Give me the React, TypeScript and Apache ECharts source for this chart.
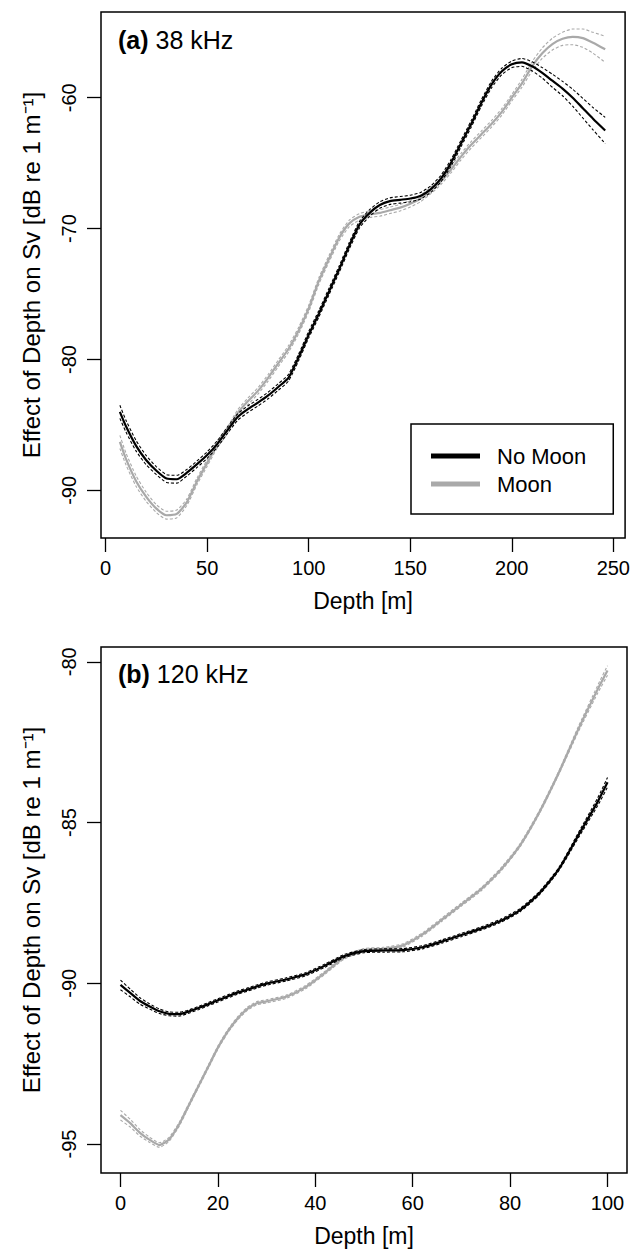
import React, { useEffect, useRef } from "react";
import * as echarts from "echarts";

const FONT = '"Liberation Sans", Arial, Helvetica, sans-serif';

// ---------- Panel (a) 38 kHz ----------
const depth38 = [7, 10, 15, 20, 25, 30, 35, 40, 45, 50, 55, 60, 65, 70, 75, 80, 85, 90, 95, 100, 105, 110, 115, 120, 125, 130, 135, 140, 145, 150, 155, 160, 165, 170, 175, 180, 185, 190, 195, 200, 205, 210, 215, 220, 225, 230, 235, 240, 246];
const noMoon38 = [-84.0, -85.1, -86.6, -87.7, -88.5, -89.1, -89.15, -88.65, -88.0, -87.3, -86.45, -85.4, -84.4, -83.8, -83.3, -82.75, -82.1, -81.4, -79.85, -78.1, -76.5, -74.8, -73.1, -71.3, -69.7, -68.8, -68.2, -67.9, -67.8, -67.7, -67.5, -67.0, -66.2, -65.0, -63.5, -62.0, -60.4, -59.0, -58.0, -57.45, -57.3, -57.6, -58.1, -58.7, -59.3, -60.0, -60.8, -61.6, -62.5];
const moon38 = [-86.3, -87.6, -89.3, -90.5, -91.4, -91.9, -91.8, -90.9, -89.3, -87.9, -86.5, -85.4, -84.1, -83.2, -82.4, -81.4, -80.3, -79.2, -77.8, -76.1, -74.0, -72.3, -70.7, -69.6, -69.1, -68.9, -68.8, -68.6, -68.4, -68.1, -67.7, -67.1, -66.4, -65.5, -64.5, -63.6, -62.8, -62.0, -61.1, -60.0, -58.9, -57.6, -56.6, -55.9, -55.5, -55.35, -55.45, -55.8, -56.3];
const seNoMoon38 = [0.5, 0.45, 0.4, 0.35, 0.3, 0.3, 0.3, 0.25, 0.25, 0.25, 0.25, 0.25, 0.25, 0.25, 0.25, 0.25, 0.25, 0.25, 0.25, 0.25, 0.25, 0.25, 0.25, 0.25, 0.25, 0.25, 0.25, 0.25, 0.25, 0.25, 0.25, 0.25, 0.25, 0.25, 0.25, 0.25, 0.25, 0.25, 0.25, 0.25, 0.3, 0.35, 0.4, 0.5, 0.55, 0.65, 0.75, 0.85, 1.0];
const seMoon38 = [0.5, 0.45, 0.4, 0.35, 0.3, 0.3, 0.3, 0.25, 0.25, 0.25, 0.25, 0.25, 0.25, 0.25, 0.25, 0.25, 0.25, 0.25, 0.25, 0.25, 0.25, 0.25, 0.25, 0.25, 0.25, 0.25, 0.25, 0.25, 0.25, 0.25, 0.25, 0.25, 0.25, 0.25, 0.25, 0.25, 0.25, 0.25, 0.25, 0.25, 0.3, 0.35, 0.4, 0.45, 0.5, 0.6, 0.7, 0.8, 1.0];
const xTicks38 = [0, 50, 100, 150, 200, 250];
const yTicks38 = [-90, -80, -70, -60];

// ---------- Panel (b) 120 kHz ----------
const depth120 = [0, 2, 4, 6, 8, 10, 12, 14, 16, 18, 20, 22, 24, 26, 28, 30, 34, 38, 42, 46, 50, 54, 58, 62, 66, 70, 74, 78, 82, 86, 90, 94, 98, 100];
const noMoon120 = [-90.05, -90.3, -90.55, -90.72, -90.87, -90.95, -90.96, -90.88, -90.77, -90.65, -90.53, -90.41, -90.29, -90.2, -90.1, -90.01, -89.88, -89.72, -89.45, -89.15, -89.0, -88.98, -88.97, -88.88, -88.7, -88.5, -88.3, -88.06, -87.73, -87.2, -86.45, -85.4, -84.35, -83.75];
const moon120 = [-94.1, -94.35, -94.65, -94.87, -95.03, -94.85, -94.4, -93.8, -93.2, -92.6, -92.0, -91.5, -91.1, -90.8, -90.62, -90.56, -90.42, -90.12, -89.67, -89.19, -88.97, -88.93, -88.82, -88.48, -88.02, -87.55, -87.08, -86.48, -85.72, -84.68, -83.45, -82.1, -80.85, -80.27];
const seNoMoon120 = [0.15, 0.12, 0.1, 0.08, 0.07, 0.06, 0.06, 0.05, 0.05, 0.05, 0.05, 0.05, 0.05, 0.05, 0.05, 0.05, 0.05, 0.05, 0.05, 0.05, 0.05, 0.05, 0.05, 0.05, 0.05, 0.05, 0.05, 0.05, 0.05, 0.05, 0.05, 0.08, 0.12, 0.15];
const seMoon120 = [0.15, 0.12, 0.1, 0.08, 0.07, 0.06, 0.06, 0.05, 0.05, 0.05, 0.05, 0.05, 0.05, 0.05, 0.05, 0.05, 0.05, 0.05, 0.05, 0.05, 0.05, 0.05, 0.05, 0.05, 0.05, 0.05, 0.05, 0.05, 0.05, 0.05, 0.05, 0.08, 0.12, 0.15];
const xTicks120 = [0, 20, 40, 60, 80, 100];
const yTicks120 = [-95, -90, -85, -80];

const seriesNames = ["No Moon", "Moon"];
const BLACK = "#000000";
const GRAY = "#a9a9a9";

const Y_TITLE = "Effect of Depth on Sv [dB re 1 m\u207B\u00B9]";
const X_TITLE = "Depth [m]";

export default function App() {
  const ref = useRef<HTMLDivElement>(null);

  useEffect(() => {
    if (!ref.current) return;
    const chart = echarts.init(ref.current, null, { renderer: "svg" });

    const pair = (xs: number[], ys: number[]) => xs.map((x, i) => [x, ys[i]]);
    const band = (xs: number[], ys: number[], se: number[], s: number) =>
      xs.map((x, i) => [x, +(ys[i] + s * se[i]).toFixed(3)]);

    const mainLine = (name: string, idx: number, data: number[][], color: string, z: number) => ({
      type: "line",
      name,
      xAxisIndex: idx,
      yAxisIndex: idx,
      data,
      showSymbol: false,
      symbol: "none",
      smooth: 0.2,
      silent: true,
      z,
      itemStyle: { color },
      lineStyle: { color, width: 2.2 },
    });
    const seLine = (name: string, idx: number, data: number[][], color: string, z: number) => ({
      type: "line",
      name,
      xAxisIndex: idx,
      yAxisIndex: idx,
      data,
      showSymbol: false,
      symbol: "none",
      smooth: 0.2,
      silent: true,
      z,
      itemStyle: { color },
      lineStyle: { color, width: 1.1, type: [3, 2] },
    });

    const xAxis = (gridIndex: number, min: number, max: number, ticks: number[]) => ({
      type: "value",
      gridIndex,
      min,
      max,
      axisLine: { show: false, onZero: false },
      axisTick: { show: true, length: 14, lineStyle: { color: "#000", width: 1.3 }, customValues: ticks },
      axisLabel: { customValues: ticks, margin: 20, fontSize: 20, color: "#000", fontFamily: FONT },
      splitLine: { show: false },
      name: X_TITLE,
      nameLocation: "middle",
      nameGap: 51,
      nameTextStyle: { fontSize: 23, color: "#000", fontFamily: FONT },
    });
    const yAxis = (gridIndex: number, min: number, max: number, ticks: number[]) => ({
      type: "value",
      gridIndex,
      min,
      max,
      axisLine: { show: false, onZero: false },
      axisTick: { show: true, length: 14, lineStyle: { color: "#000", width: 1.3 }, customValues: ticks },
      axisLabel: { customValues: ticks, rotate: 90, margin: 22, fontSize: 20, color: "#000", fontFamily: FONT },
      splitLine: { show: false },
      name: Y_TITLE,
      nameLocation: "middle",
      nameRotate: 90,
      nameGap: 58,
      nameTextStyle: { fontSize: 24, color: "#000", fontFamily: FONT },
    });

    const panelLabel = (tag: string, rest: string, y: number) => ({
      type: "text",
      x: 118,
      y,
      style: {
        text: "{b|" + tag + "} " + rest,
        fontSize: 25,
        fontFamily: FONT,
        fill: "#000",
        verticalAlign: "middle",
        rich: { b: { fontSize: 25, fontWeight: "bold", fontFamily: FONT, fill: "#000" } },
      },
    });

    const option = {
      animation: false,
      backgroundColor: "#ffffff",
      grid: [
        { left: 101, top: 12, width: 526, height: 526, show: true, borderColor: "#000", borderWidth: 1.5, backgroundColor: "transparent" },
        { left: 101, top: 647, width: 526, height: 526, show: true, borderColor: "#000", borderWidth: 1.5, backgroundColor: "transparent" },
      ],
      xAxis: [xAxis(0, -2.3, 255.8, xTicks38), xAxis(1, -4, 104, xTicks120)],
      yAxis: [yAxis(0, -93.64, -53.45, yTicks38), yAxis(1, -95.9, -79.54, yTicks120)],
      legend: {
        data: seriesNames,
        orient: "vertical",
        left: 411,
        top: 424,
        selectedMode: false,
        icon: "rect",
        itemWidth: 49,
        itemHeight: 5,
        itemGap: 0,
        padding: [18, 27, 16, 20],
        borderColor: "#000",
        borderWidth: 1.5,
        backgroundColor: "#fff",
        textStyle: { fontSize: 22, color: "#000", fontFamily: FONT, lineHeight: 28, padding: [0, 0, 0, 12] },
      },
      graphic: [panelLabel("(a)", "38 kHz", 40), panelLabel("(b)", "120 kHz", 674)],
      series: [
        // panel (a)
        seLine("Moon upper 38", 0, band(depth38, moon38, seMoon38, 1), GRAY, 2),
        seLine("Moon lower 38", 0, band(depth38, moon38, seMoon38, -1), GRAY, 2),
        mainLine("Moon", 0, pair(depth38, moon38), GRAY, 3),
        seLine("No Moon upper 38", 0, band(depth38, noMoon38, seNoMoon38, 1), BLACK, 4),
        seLine("No Moon lower 38", 0, band(depth38, noMoon38, seNoMoon38, -1), BLACK, 4),
        mainLine("No Moon", 0, pair(depth38, noMoon38), BLACK, 5),
        // panel (b)
        seLine("Moon upper 120", 1, band(depth120, moon120, seMoon120, 1), GRAY, 2),
        seLine("Moon lower 120", 1, band(depth120, moon120, seMoon120, -1), GRAY, 2),
        mainLine("Moon", 1, pair(depth120, moon120), GRAY, 3),
        seLine("No Moon upper 120", 1, band(depth120, noMoon120, seNoMoon120, 1), BLACK, 4),
        seLine("No Moon lower 120", 1, band(depth120, noMoon120, seNoMoon120, -1), BLACK, 4),
        mainLine("No Moon", 1, pair(depth120, noMoon120), BLACK, 5),
      ],
    };

    chart.setOption(option as any);
    return () => chart.dispose();
  }, []);

  return (
    <div
      ref={ref}
      style={{ position: "absolute", left: 0, top: 0, width: 633, height: 1249, background: "#fff" }}
    />
  );
}
